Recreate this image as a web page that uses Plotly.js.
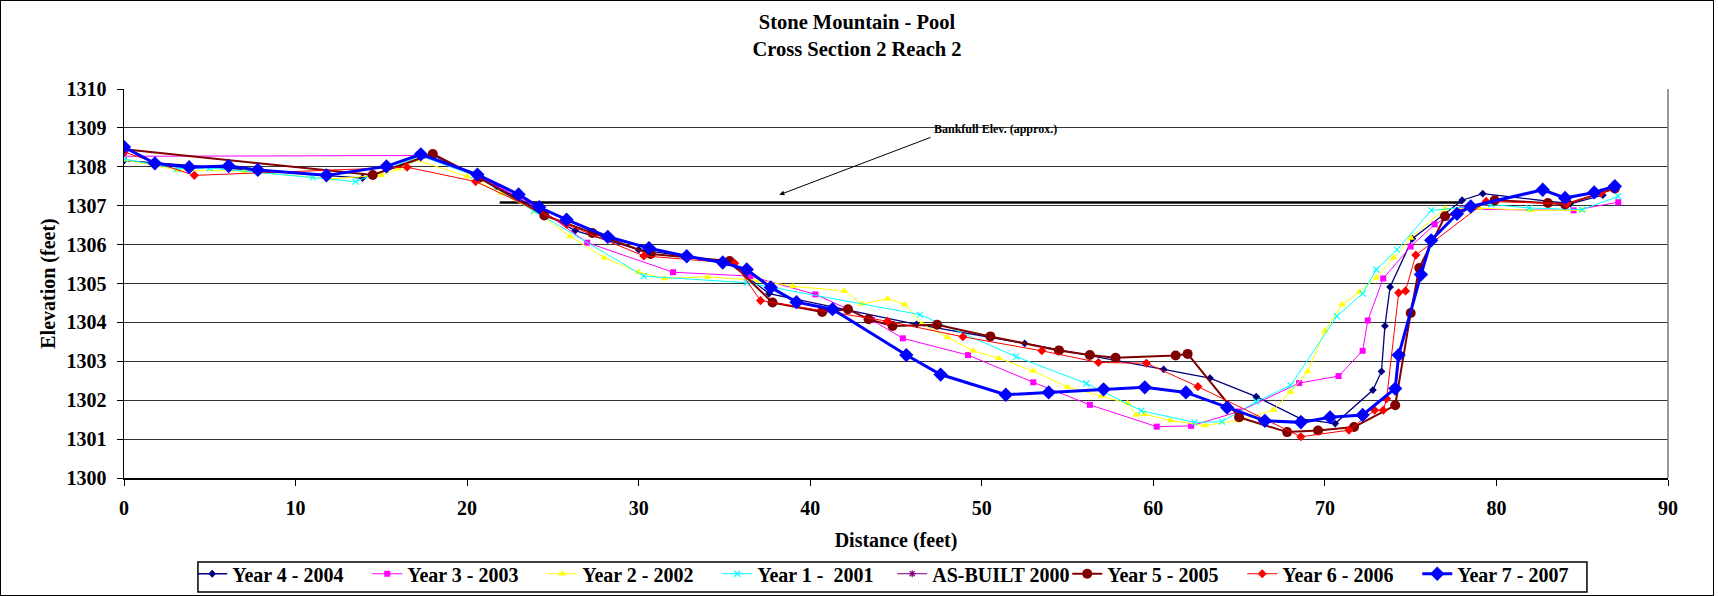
<!DOCTYPE html>
<html>
<head>
<meta charset="utf-8">
<script src="https://cdn.plot.ly/plotly-3.0.1.min.js"></script>
<style>
  html, body { margin: 0; padding: 0; background: #fff; }
  #wrap { position: absolute; left: 0; top: 0; width: 1712px; height: 594px; border: 1px solid #000; }
  #chart { width: 1712px; height: 594px; }
</style>
</head>
<body>
<div id="wrap"><div id="chart"></div></div>
<script>
// ---- Data (distance in feet, elevation in feet) ----
const y2004_x = [0, 13.9, 18.0, 21.7, 26.3, 30.0, 35.2, 37.6, 46.2, 52.5, 60.6, 63.3, 66.0, 68.6, 70.6, 72.8, 73.3, 73.5, 73.8, 75.1, 78.0, 79.2, 84.3, 86.2];
const y2004_y = [1308.16, 1307.71, 1308.30, 1307.50, 1306.36, 1305.87, 1305.55, 1304.74, 1303.95, 1303.46, 1302.79, 1302.57, 1302.09, 1301.52, 1301.40, 1302.26, 1302.74, 1303.91, 1304.91, 1306.15, 1307.14, 1307.31, 1307.05, 1307.27];

const y2003_x = [0, 17.3, 20.6, 23.0, 24.3, 27.0, 32.0, 36.5, 40.3, 43.6, 45.4, 49.2, 53.0, 56.3, 60.2, 62.2, 65.0, 68.5, 70.8, 72.2, 72.5, 73.4, 75.0, 76.4, 78.0, 84.5, 87.1];
const y2003_y = [1308.27, 1308.29, 1307.75, 1307.22, 1306.90, 1306.05, 1305.29, 1305.19, 1304.72, 1304.06, 1303.59, 1303.16, 1302.46, 1301.88, 1301.32, 1301.34, 1301.71, 1302.44, 1302.62, 1303.27, 1304.05, 1305.13, 1305.95, 1306.52, 1306.91, 1306.88, 1307.09];

const y2002_x = [0, 3.1, 7.0, 12.0, 15.0, 16.0, 17.0, 20.0, 22.0, 24.0, 26.0, 28.0, 30.0, 31.5, 34.0, 37.0, 39.0, 42.0, 43.0, 44.5, 45.5, 46.5, 48.0, 49.5, 51.0, 53.0, 55.0, 57.0, 58.5, 59.0, 59.5, 61.0, 63.0, 65.0, 67.0, 68.0, 69.0, 70.0, 71.0, 72.0, 73.0, 74.0, 75.0, 77.0, 79.0, 82.0, 85.0];
const y2002_y = [1308.18, 1307.92, 1307.89, 1307.69, 1307.78, 1307.95, 1308.18, 1307.75, 1307.32, 1306.85, 1306.21, 1305.66, 1305.29, 1305.13, 1305.17, 1305.08, 1304.93, 1304.81, 1304.47, 1304.61, 1304.46, 1303.96, 1303.62, 1303.27, 1303.08, 1302.75, 1302.34, 1302.11, 1301.92, 1301.62, 1301.64, 1301.48, 1301.35, 1301.48, 1301.75, 1302.21, 1302.74, 1303.78, 1304.46, 1304.78, 1305.15, 1305.66, 1306.17, 1306.92, 1306.94, 1306.88, 1306.88];

const y2001_x = [0, 3.1, 5.0, 11.0, 13.5, 17.3, 20.4, 23.9, 30.3, 36.3, 46.4, 52.0, 56.1, 59.3, 62.4, 64.0, 66.0, 68.0, 70.7, 72.2, 73.0, 74.2, 76.2, 79.7, 81.9, 85.0, 87.1];
const y2001_y = [1308.20, 1307.95, 1307.97, 1307.73, 1307.62, 1308.28, 1307.78, 1306.87, 1305.19, 1305.02, 1304.20, 1303.12, 1302.43, 1301.73, 1301.43, 1301.45, 1301.96, 1302.38, 1304.16, 1304.74, 1305.36, 1305.87, 1306.88, 1307.03, 1306.94, 1306.90, 1307.24];

// AS-BUILT 2000: no marks visible in the picture (legend entry only)
const asBuilt_x = [null];
const asBuilt_y = [null];

const y2005_x = [0, 14.5, 18.0, 20.7, 24.5, 27.3, 30.7, 35.3, 37.8, 40.7, 42.2, 43.4, 44.8, 47.4, 50.5, 54.5, 56.3, 57.8, 61.3, 62.0, 65.0, 67.8, 69.6, 71.7, 74.1, 75.0, 75.5, 77.0, 79.9, 83.0, 84.0, 86.9];
const y2005_y = [1308.45, 1307.79, 1308.33, 1307.72, 1306.75, 1306.30, 1305.76, 1305.58, 1304.51, 1304.27, 1304.34, 1304.08, 1303.91, 1303.94, 1303.64, 1303.28, 1303.16, 1303.09, 1303.15, 1303.19, 1301.56, 1301.18, 1301.22, 1301.31, 1301.87, 1304.24, 1305.40, 1306.73, 1307.14, 1307.07, 1307.03, 1307.44];

const y2006_x = [0, 4.1, 16.5, 20.5, 25.8, 30.3, 35.6, 37.1, 44.5, 48.9, 53.5, 56.8, 59.6, 62.6, 68.6, 71.4, 72.9, 73.4, 73.6, 74.3, 74.7, 75.3, 79.4, 84.1, 86.1, 86.9];
const y2006_y = [1308.38, 1307.78, 1307.99, 1307.62, 1306.52, 1305.71, 1305.52, 1304.56, 1304.03, 1303.63, 1303.27, 1302.97, 1302.95, 1302.35, 1301.06, 1301.23, 1301.74, 1301.74, 1302.04, 1304.76, 1304.81, 1305.73, 1307.11, 1307.05, 1307.33, 1307.45];

const y2007_x = [0, 1.8, 3.8, 6.1, 7.8, 11.8, 15.3, 17.3, 20.6, 23.0, 24.2, 25.8, 28.2, 30.6, 32.8, 34.9, 36.3, 37.7, 39.2, 41.3, 45.6, 47.6, 51.4, 53.9, 57.1, 59.5, 61.9, 64.3, 66.5, 68.6, 70.3, 72.2, 74.1, 74.3, 75.6, 76.2, 77.7, 78.5, 82.7, 84.0, 85.7, 86.9];
const y2007_y = [1308.51, 1308.09, 1307.99, 1308.02, 1307.92, 1307.78, 1308.01, 1308.32, 1307.80, 1307.29, 1306.96, 1306.64, 1306.20, 1305.91, 1305.70, 1305.54, 1305.36, 1304.90, 1304.52, 1304.34, 1303.16, 1302.66, 1302.14, 1302.20, 1302.28, 1302.33, 1302.20, 1301.81, 1301.47, 1301.43, 1301.56, 1301.62, 1302.30, 1303.16, 1305.23, 1306.11, 1306.79, 1306.98, 1307.41, 1307.20, 1307.34, 1307.50];

const bankfullX = [21.9, 78.0];
const bankfullElev = 1307.08;
const bankfullLabel = "Bankfull Elev. (approx.)";
const bankfullLabelPos = [50.8, 1308.98];
const bankfullArrowTail = [47.1, 1308.77];
const bankfullArrowHead = [38.2, 1307.28];

const xTicks = [0, 10, 20, 30, 40, 50, 60, 70, 80, 90];
const yTicks = [1300, 1301, 1302, 1303, 1304, 1305, 1306, 1307, 1308, 1309, 1310];

// ---- Traces ----
const FONT = "Liberation Serif, Times New Roman, serif";
function series(name, x, y, color, symbol, msize, lwidth, extra) {
  return Object.assign({
    type: 'scatter', mode: 'lines+markers', name: name, x: x, y: y,
    line: { color: color, width: lwidth },
    marker: { color: color, symbol: symbol, size: msize, line: { color: color, width: 0 } }
  }, extra || {});
}

const traces = [
  {
    type: 'scatter', mode: 'lines', x: bankfullX, y: bankfullX.map(() => bankfullElev),
    line: { color: '#000', width: 2.5 }, showlegend: false, hoverinfo: 'skip'
  },
  series('Year 4 - 2004', y2004_x, y2004_y, '#000080', 'diamond', 6, 1.3),
  series('Year 3 - 2003', y2003_x, y2003_y, '#FF00FF', 'square', 6, 1),
  series('Year 2 - 2002', y2002_x, y2002_y, '#FFFF00', 'triangle-up', 7, 1),
  series('Year 1 -  2001', y2001_x, y2001_y, '#00FFFF', 'x-thin-open', 6, 1,
         { marker: { color: '#00FFFF', symbol: 'x-thin-open', size: 6, line: { color: '#00FFFF', width: 1.2 } } }),
  series('AS-BUILT 2000', asBuilt_x, asBuilt_y, '#800080', 'asterisk-open', 6, 1,
         { marker: { color: '#800080', symbol: 'asterisk-open', size: 6, line: { color: '#800080', width: 1.2 } } }),
  series('Year 5 - 2005', y2005_x, y2005_y, '#800000', 'circle', 10, 2),
  series('Year 6 - 2006', y2006_x, y2006_y, '#FF0000', 'diamond', 7, 1),
  series('Year 7 - 2007', y2007_x, y2007_y, '#0000FF', 'diamond', 11, 3)
];

const layout = {
  width: 1712, height: 594,
  margin: { l: 123, r: 45, t: 88, b: 117, autoexpand: false },
  paper_bgcolor: '#fff', plot_bgcolor: '#fff',
  font: { family: FONT, size: 20, color: '#000', weight: 'bold' },
  showlegend: true,
  title: {
    text: 'Stone Mountain - Pool<br>Cross Section 2 Reach 2',
    font: { family: FONT, size: 20.5, color: '#000', weight: 'bold' },
    x: 0.5, xanchor: 'center', y: 0.953, yanchor: 'top', yref: 'container'
  },
  xaxis: {
    range: [0, 90], tickvals: xTicks, ticktext: xTicks.map(String),
    ticks: 'outside', ticklen: 6, tickcolor: '#000', tickwidth: 1,
    showline: true, linecolor: '#000', linewidth: 1.5,
    showgrid: false, zeroline: false,
    tickfont: { family: FONT, size: 20, color: '#000', weight: 'bold' },
    ticklabelstandoff: 5,
    title: { text: 'Distance (feet)', font: { family: FONT, size: 20, color: '#000', weight: 'bold' }, standoff: 15 },
    automargin: false, fixedrange: true
  },
  yaxis: {
    range: [1300, 1310], tickvals: yTicks, ticktext: yTicks.map(String),
    ticks: 'outside', ticklen: 6, tickcolor: '#000', tickwidth: 1,
    showline: true, linecolor: '#000', linewidth: 1.5,
    showgrid: true, gridcolor: '#333', gridwidth: 1, zeroline: false,
    tickfont: { family: FONT, size: 20, color: '#000', weight: 'bold' },
    ticklabelstandoff: 6,
    title: { text: 'Elevation (feet)', font: { family: FONT, size: 20, color: '#000', weight: 'bold' }, standoff: 5 },
    automargin: false, fixedrange: true
  },
  legend: {
    orientation: 'h', x: 0.0442, xanchor: 'left', y: -0.196, yanchor: 'top',
    bgcolor: 'rgba(0,0,0,0)', borderwidth: 0,
    font: { family: FONT, size: 20, color: '#000', weight: 'bold' },
    itemwidth: 30, tracegroupgap: 0, entrywidth: 130, entrywidthmode: 'pixels'
  },
  shapes: [
    { type: 'line', xref: 'paper', yref: 'paper', x0: 1, x1: 1, y0: 0, y1: 1, line: { color: '#777', width: 1.5 } },
    { type: 'rect', xref: 'paper', yref: 'paper', x0: 0.0479, x1: 0.9475, y0: -0.2931, y1: -0.2159,
      line: { color: '#000', width: 1.5 }, fillcolor: 'rgba(0,0,0,0)' }
  ],
  annotations: [
    {
      x: bankfullLabelPos[0], y: bankfullLabelPos[1], xref: 'x', yref: 'y',
      text: bankfullLabel, showarrow: false,
      font: { family: FONT, size: 12, color: '#000', weight: 'bold' }
    },
    {
      x: bankfullArrowHead[0], y: bankfullArrowHead[1], xref: 'x', yref: 'y',
      ax: bankfullArrowTail[0], ay: bankfullArrowTail[1], axref: 'x', ayref: 'y',
      text: '', showarrow: true, arrowhead: 2, arrowsize: 1, arrowwidth: 1, arrowcolor: '#000'
    }
  ]
};

Plotly.newPlot('chart', traces, layout, { staticPlot: true, displayModeBar: false });
</script>
</body>
</html>
